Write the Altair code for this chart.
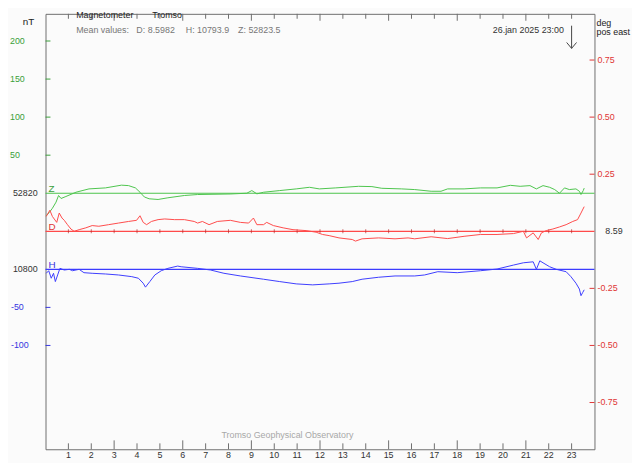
import altair as alt
import pandas as pd

# ---------------- data ----------------
Z_HOURS = [0.03, 0.17, 0.30, 0.46, 0.57, 0.68, 0.89, 1.33, 1.90, 2.62, 3.32, 3.63, 3.93,
           4.13, 4.32, 4.53, 4.92, 5.35, 6.07, 6.65, 8.07, 8.80, 9.02, 9.24, 9.53,
           10.24, 10.96, 11.54, 11.97, 12.69, 13.69, 14.27, 14.70, 15.57, 16.14,
           16.86, 17.29, 17.58, 18.30, 19.02, 19.74, 20.32, 20.75, 21.18, 21.46, 21.75,
           22.04, 22.26, 22.47, 22.69, 22.90, 23.19, 23.34, 23.41, 23.51, 23.55]
Z_VALUES = [52790.4, 52795.0, 52800.2, 52808.3, 52817.0, 52813.1, 52815.7, 52821.3, 52825.7,
            52827.0, 52830.6, 52830.0, 52827.0, 52821.3, 52815.1, 52812.7, 52811.8, 52814.0,
            52817.0, 52818.3, 52819.0, 52820.0, 52823.5, 52819.2, 52821.3, 52823.5, 52825.7,
            52827.8, 52825.7, 52827.0, 52829.1, 52828.7, 52826.5, 52825.7, 52824.8, 52822.6,
            52822.6, 52825.7, 52825.7, 52827.0, 52827.0, 52830.4, 52829.1, 52830.0, 52825.7,
            52830.0, 52827.8, 52824.8, 52820.0, 52827.0, 52824.8, 52825.7, 52822.6, 52818.3,
            52823.5, 52826.7]

D_HOURS = [0.03, 0.19, 0.30, 0.49, 0.60, 0.72, 0.82, 0.96, 1.11, 1.25, 1.47, 1.76, 2.04, 2.33,
           2.76, 3.19, 3.63, 3.98, 4.13, 4.27, 4.42, 4.63, 4.92, 5.21, 5.64, 6.07, 6.50, 6.65,
           6.86, 7.15, 7.51, 8.08, 8.52, 8.88, 9.09, 9.24, 9.53, 9.67, 9.96, 10.39, 10.82,
           11.39, 11.83, 12.11, 12.40, 12.83, 13.41, 13.55, 13.84, 14.56, 15.28, 15.85, 16.14,
           16.86, 17.58, 18.30, 19.02, 19.74, 20.46, 20.89, 21.03, 21.32, 21.54, 21.68, 21.89,
           22.18, 22.47, 22.76, 23.05, 23.26, 23.41, 23.55]
D_VALUES = [8.655, 8.682, 8.655, 8.629, 8.670, 8.648, 8.638, 8.619, 8.600, 8.590, 8.597, 8.605,
            8.615, 8.612, 8.619, 8.626, 8.633, 8.638, 8.658, 8.629, 8.619, 8.633, 8.641, 8.644,
            8.641, 8.641, 8.633, 8.626, 8.633, 8.619, 8.633, 8.638, 8.629, 8.626, 8.648, 8.619,
            8.619, 8.629, 8.615, 8.605, 8.597, 8.593, 8.586, 8.576, 8.571, 8.561, 8.554, 8.547,
            8.557, 8.561, 8.557, 8.561, 8.557, 8.566, 8.558, 8.568, 8.576, 8.576, 8.580, 8.590,
            8.561, 8.583, 8.554, 8.583, 8.593, 8.600, 8.609, 8.619, 8.633, 8.641, 8.670, 8.698]

H_HOURS = [0.03, 0.14, 0.25, 0.35, 0.43, 0.53, 0.63, 0.82, 1.04, 1.18, 1.47, 1.68, 2.04, 2.62,
           3.19, 3.77, 4.06, 4.27, 4.37, 4.56, 4.78, 5.06, 5.35, 5.78, 5.93, 6.65, 7.22, 7.80,
           8.52, 9.53, 10.24, 10.96, 11.68, 12.40, 12.83, 13.41, 13.84, 14.56, 15.28, 16.14,
           16.57, 17.15, 18.00, 19.02, 19.74, 20.46, 20.89, 21.32, 21.46, 21.61, 21.75, 22.04,
           22.33, 22.76, 22.97, 23.19, 23.34, 23.41, 23.48, 23.55]
H_VALUES = [10794.8, 10798.2, 10788.3, 10794.8, 10783.9, 10792.6, 10801.3, 10799.1, 10800.0,
            10798.2, 10800.0, 10795.6, 10794.8, 10793.9, 10792.6, 10790.4, 10788.3, 10781.8,
            10776.6, 10783.9, 10792.6, 10798.2, 10801.3, 10804.3, 10803.4, 10801.3, 10799.1,
            10794.8, 10791.3, 10787.0, 10783.9, 10780.9, 10779.6, 10780.9, 10781.8, 10783.9,
            10787.0, 10789.6, 10791.3, 10791.3, 10792.6, 10796.9, 10795.6, 10798.2, 10800.4,
            10805.6, 10808.6, 10809.9, 10800.0, 10811.2, 10808.6, 10803.4, 10800.0, 10796.9,
            10790.4, 10781.8, 10774.1, 10765.4, 10769.3, 10773.1]

Z_BASE = 52820
H_BASE = 10800
D_BASE = 8.59

HOUR_TICKS = list(range(1, 24))
LONG_HOURS = [3, 6, 9, 12, 15, 18, 21]
SHORT_HOURS = [h for h in HOUR_TICKS if h not in LONG_HOURS]
ARROW_HOUR = [23]

Z_AXIS_VALUES = [53020, 52970, 52920, 52870]
Z_AXIS_LABELS = ["200", "150", "100", "50"]
H_AXIS_VALUES = [10750, 10700]
H_AXIS_LABELS = ["-50", "-100"]
D_AXIS_VALUES = [9.34, 9.09, 8.84, 8.34, 8.09, 7.84]
D_AXIS_LABELS = ["0.75", "0.50", "0.25", "-0.25", "-0.50", "-0.75"]

# ---------------- layout / style ----------------
W, HGT = 556, 441
FONT = "Liberation Sans, Arial, sans-serif"
FS = 9
GREEN, GREEN_T = "#4cc44c", "#3a9f3a"
RED, RED_T = "#ff4a4a", "#e03535"
BLUE, BLUE_T = "#3c3cff", "#3535e0"
GRAY = "#6e6e6e"

xs = alt.Scale(domain=[0, 24], nice=False, zero=False)
zs = alt.Scale(domain=[Z_BASE - 336.4, Z_BASE + 235.7], nice=False, zero=False)
hs = alt.Scale(domain=[H_BASE + 100 - 336.4, H_BASE + 100 + 235.7], nice=False, zero=False)
ds = alt.Scale(domain=[D_BASE - 286.4 / 300, D_BASE + 285.7 / 300], nice=False, zero=False)

zdf = pd.DataFrame({"t": Z_HOURS, "v": Z_VALUES})
ddf = pd.DataFrame({"t": D_HOURS, "v": D_VALUES})
hdf = pd.DataFrame({"t": H_HOURS, "v": H_VALUES})


def X(field="t"):
    return alt.X(f"{field}:Q", scale=xs, axis=None)


def Yf(scale, field="v"):
    return alt.Y(f"{field}:Q", scale=scale, axis=None)


def line(df, scale, color):
    return alt.Chart(df).mark_line(color=color, strokeWidth=1, interpolate="linear").encode(
        x=X(), y=Yf(scale))


def base(value, scale, color):
    return alt.Chart(pd.DataFrame({"v": [value]})).mark_rule(color=color, strokeWidth=1.2).encode(
        y=Yf(scale))


def label(text, x, y, color, align="left", baseline="middle", size=FS):
    return alt.Chart(pd.DataFrame({"s": [text]})).mark_text(
        align=align, baseline=baseline, color=color, fontSize=size, font=FONT
    ).encode(x=alt.value(x), y=alt.value(y), text="s:N")


def axis_labels(values, labels, scale, color, x, align="left"):
    df = pd.DataFrame({"v": values, "s": labels})
    return alt.Chart(df).mark_text(align=align, baseline="middle", color=color,
                                   fontSize=FS, font=FONT).encode(
        x=alt.value(x), y=Yf(scale), text="s:N")


def axis_ticks(values, scale, color, x0, x1):
    df = pd.DataFrame({"v": values})
    return alt.Chart(df).mark_rule(color=color, strokeWidth=1).encode(
        x=alt.value(x0), x2=alt.value(x1), y=Yf(scale))


def hour_rules(hours, y0, y1, color=GRAY):
    df = pd.DataFrame({"t": hours})
    return alt.Chart(df).mark_rule(color=color, strokeWidth=1).encode(
        x=X(), y=alt.value(y0), y2=alt.value(y1))


def letter(value, scale, text, color):
    return alt.Chart(pd.DataFrame({"v": [value], "s": [text]})).mark_text(
        align="left", baseline="bottom", color=color, fontSize=10, font=FONT, dx=3, dy=1
    ).encode(x=alt.value(0), y=Yf(scale), text="s:N")


layers = [
    base(Z_BASE, zs, GREEN),
    base(D_BASE, ds, RED),
    base(H_BASE, hs, BLUE),
    alt.Chart(pd.DataFrame({"t": HOUR_TICKS, "v": [D_BASE] * len(HOUR_TICKS)})).mark_tick(
        orient="vertical", size=4, thickness=1, color="#b52a2a").encode(x=X(), y=Yf(ds)),
    line(zdf, zs, GREEN),
    line(ddf, ds, RED),
    line(hdf, hs, BLUE),
    # hour ticks, bottom and top
    hour_rules(SHORT_HOURS, HGT - 6, HGT),
    hour_rules(LONG_HOURS, HGT - 9, HGT),
    hour_rules(SHORT_HOURS, 0, 5),
    hour_rules(LONG_HOURS, 0, 7),
    alt.Chart(pd.DataFrame({"t": HOUR_TICKS, "s": [str(h) for h in HOUR_TICKS]})).mark_text(
        baseline="middle", align="center", color="#333333", fontSize=FS, font=FONT
    ).encode(x=X(), y=alt.value(HGT + 6), text="s:N"),
    # left axis
    axis_ticks(Z_AXIS_VALUES, zs, GREEN_T, 0, 5),
    axis_ticks(H_AXIS_VALUES, hs, BLUE_T, 0, 5),
    axis_labels(Z_AXIS_VALUES, Z_AXIS_LABELS, zs, GREEN_T, -36),
    axis_labels(H_AXIS_VALUES, H_AXIS_LABELS, hs, BLUE_T, -35),
    axis_labels([Z_BASE], [str(Z_BASE)], zs, "#333333", -8, align="right"),
    axis_labels([H_BASE], [str(H_BASE)], hs, "#333333", -8, align="right"),
    # right axis
    axis_ticks(D_AXIS_VALUES, ds, RED_T, W - 5, W),
    axis_labels(D_AXIS_VALUES, D_AXIS_LABELS, ds, RED_T, W + 3),
    axis_labels([D_BASE], ["8.59"], ds, "#333333", W + 11),
    # series letters
    letter(Z_BASE, zs, "Z", GREEN_T),
    letter(D_BASE, ds, "D", RED_T),
    letter(H_BASE, hs, "H", BLUE_T),
    # arrow at the current time
    alt.Chart(pd.DataFrame({"t": ARROW_HOUR})).mark_rule(color="#444444", strokeWidth=1).encode(
        x=X(), y=alt.value(12), y2=alt.value(35)),
    alt.Chart(pd.DataFrame({"t": ARROW_HOUR})).mark_point(
        shape="M-1,-1.2L0,0L1,-1.2", filled=False, size=100, color="#444444", strokeWidth=1,
        opacity=1).encode(x=X(), y=alt.value(35)),
    # texts
    label("nT", -23, 8, "#222222", size=10),
    label("deg", W + 2, 9, "#222222"),
    label("pos east", W + 2, 18, "#222222"),
    label("Magnetometer", 31, -3, "#222222", baseline="top"),
    label("Tromso", 108, -3, "#222222", baseline="top"),
    label("Mean values:", 31, 16, "#777777"),
    label("D: 8.5982", 92, 16, "#777777"),
    label("H: 10793.9", 142, 16, "#777777"),
    label("Z: 52823.5", 195, 16, "#777777"),
    label("26.jan 2025 23:00", 525, 16, "#333333", align="right"),
    label("Tromso Geophysical Observatory", 245, 427, "#a8a8a8", align="center"),
]

chart = alt.layer(*layers).resolve_scale(y="independent").properties(
    width=W, height=HGT,
    padding={"left": 38, "top": 3, "right": 38, "bottom": 11},
    autosize="none",
    background="#fbfbfb",
).configure_view(stroke=GRAY, strokeWidth=1)

chart.save("out.html", embed_options={"renderer": "svg", "actions": False})
